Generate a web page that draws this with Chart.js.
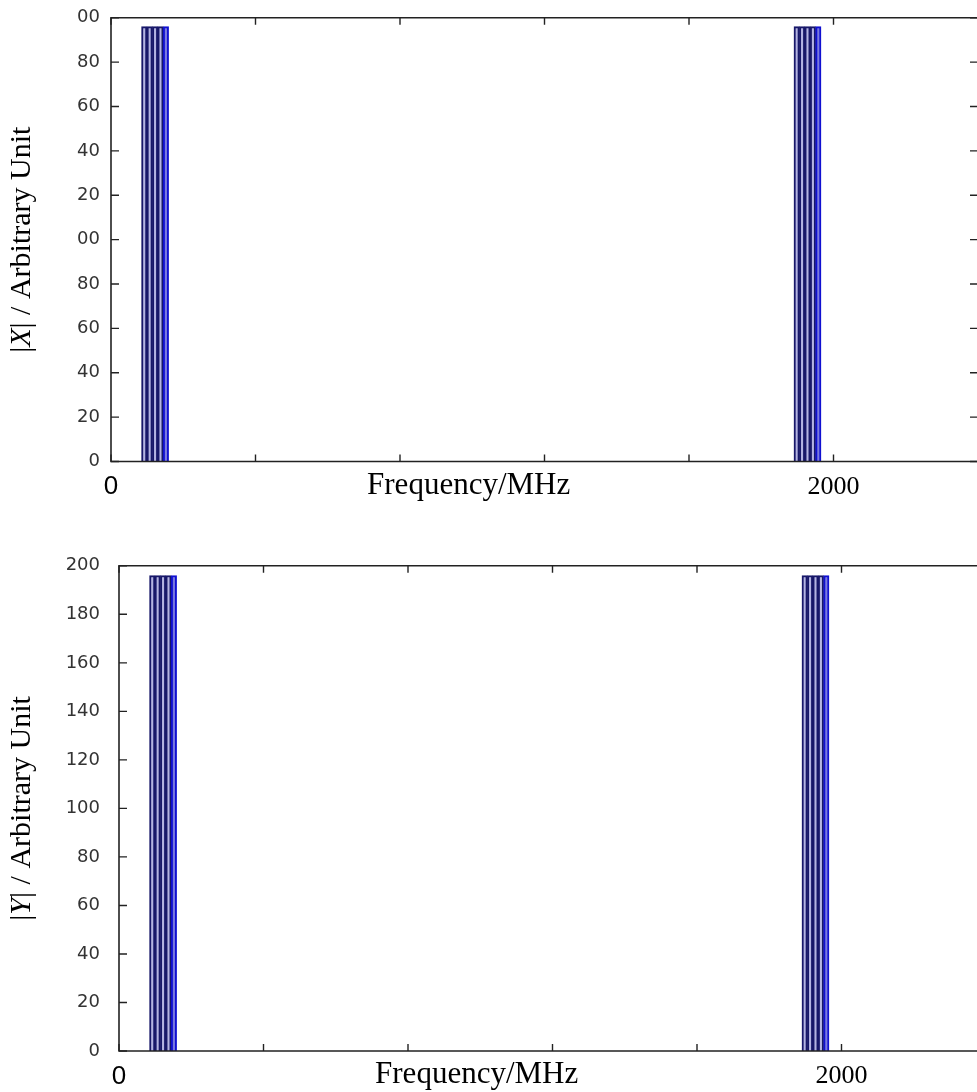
<!DOCTYPE html>
<html lang="en">
<head>
<meta charset="UTF-8">
<title>Spectrum |X| and |Y|</title>
<script src="https://cdn.jsdelivr.net/npm/chart.js"></script>
<style>
  html, body { margin: 0; padding: 0; background: #fff; overflow: hidden; }
  canvas { position: absolute; left: 0; }
  #topChart { top: -4px; }
  #bottomChart { top: 536px; }
</style>
</head>
<body>
<canvas id="topChart" width="988" height="544"></canvas>
<canvas id="bottomChart" width="996" height="556"></canvas>
<script>
// spectral lines (MHz) and their magnitudes
const freqs = [92, 107, 122, 137, 152, 1898, 1913, 1928, 1943, 1958];
const magX = [196, 196, 196, 196, 196, 196, 196, 196, 196, 196];
const magY = [196, 196, 196, 196, 196, 196, 196, 196, 196, 196];

const xTicks = [0, 400, 800, 1200, 1600, 2000, 2400];
const xTickText = ['0', '', '', '', '', '2000', ''];
const yTicks = [0, 20, 40, 60, 80, 100, 120, 140, 160, 180, 200];
const yTickTextTop = ['0', '20', '40', '60', '80', '00', '20', '40', '60', '80', '00'];
const yTickTextBottom = ['0', '20', '40', '60', '80', '100', '120', '140', '160', '180', '200'];
const xTitle = 'Frequency/MHz';
const xTitleAt = 990; // MHz, where the axis caption sits

const NAVY = '#18186a';
const BLUE = '#1010d0';

// frame, inward ticks, and the two titles
const matlabFrame = {
  id: 'matlabFrame',
  afterDatasetsDraw(chart, args, opts) {
    const { ctx, chartArea: a, scales: { x, y } } = chart;
    ctx.save();
    ctx.strokeStyle = '#222';
    ctx.lineWidth = 1.6;
    ctx.beginPath();
    ctx.moveTo(a.right, a.top);
    ctx.lineTo(a.left, a.top);
    ctx.lineTo(a.left, a.bottom);
    ctx.lineTo(a.right, a.bottom);
    ctx.stroke();

    ctx.lineWidth = 1.4;
    ctx.beginPath();
    x.ticks.forEach((t) => {
      const px = x.getPixelForValue(t.value);
      ctx.moveTo(px, a.bottom); ctx.lineTo(px, a.bottom - 7);
      ctx.moveTo(px, a.top); ctx.lineTo(px, a.top + 7);
    });
    y.ticks.forEach((t) => {
      const py = y.getPixelForValue(t.value);
      ctx.moveTo(a.left, py); ctx.lineTo(a.left + 8, py);
      ctx.moveTo(a.right, py); ctx.lineTo(a.right - 8, py);
    });
    ctx.stroke();

    // x caption
    ctx.fillStyle = '#000';
    ctx.font = '31px "Liberation Serif", "Times New Roman", serif';
    ctx.textAlign = 'center';
    ctx.textBaseline = 'middle';
    ctx.fillText(xTitle, x.getPixelForValue(xTitleAt), a.bottom + 24);

    // y caption with italic variable name
    const parts = [
      ['|', '30px "Liberation Serif", serif'],
      [opts.letter, 'italic 30px "Liberation Serif", serif'],
      ['| / Arbitrary Unit', '30px "Liberation Serif", serif'],
    ];
    let total = 0;
    parts.forEach((p) => { ctx.font = p[1]; total += ctx.measureText(p[0]).width; });
    ctx.translate(22, (a.top + a.bottom) / 2);
    ctx.rotate(-Math.PI / 2);
    ctx.textAlign = 'left';
    let cx = -total / 2;
    parts.forEach((p) => {
      ctx.font = p[1];
      ctx.fillText(p[0], cx, 0);
      cx += ctx.measureText(p[0]).width;
    });
    ctx.restore();
  },
};

function makeChart(id, values, yText, letter, axisLeft, labelPad, padTop, axisHeight) {
  return new Chart(document.getElementById(id), {
    type: 'bar',
    data: {
      datasets: [{
        data: freqs.map((f, i) => ({ x: f, y: values[i] })),
        backgroundColor: (c) => (c.dataIndex % 5 === 4 ? '#7a7ae0' : '#b4b4e2'),
        borderColor: (c) => (c.dataIndex % 5 === 4 ? BLUE : NAVY),
        borderWidth: 2,
        borderSkipped: 'start',
        barThickness: 5.4,
      }],
    },
    options: {
      responsive: false,
      animation: false,
      layout: { padding: { top: padTop, right: 0, bottom: 0, left: 0 } },
      plugins: { legend: { display: false }, tooltip: { enabled: false }, matlabFrame: { letter } },
      scales: {
        x: {
          type: 'linear',
          min: 0,
          max: 2400,
          offset: false,
          grid: { display: false, drawTicks: false, offset: false },
          border: { display: false },
          afterBuildTicks: (s) => { s.ticks = xTicks.map((v) => ({ value: v })); },
          afterFit: (s) => { s.height = axisHeight; },
          ticks: {
            autoSkip: false,
            maxRotation: 0,
            padding: 10,
            color: '#000',
            font: (c) => (c.tick && c.tick.value === 0
              ? { family: '"Liberation Sans", Arial, sans-serif', size: 26 }
              : { family: '"Liberation Serif", "Times New Roman", serif', size: 26 }),
            callback: (v) => xTickText[xTicks.indexOf(v)],
          },
        },
        y: {
          min: 0,
          max: 200,
          grid: { display: false, drawTicks: false },
          border: { display: false },
          afterBuildTicks: (s) => { s.ticks = yTicks.map((v) => ({ value: v })); },
          afterFit: (s) => { s.width = axisLeft; },
          ticks: {
            padding: labelPad,
            color: '#333',
            font: { family: '"DejaVu Sans", sans-serif', size: 18 },
            callback: (v) => yText[yTicks.indexOf(v)],
          },
        },
      },
    },
    plugins: [matlabFrame],
  });
}

makeChart('topChart', magX, yTickTextTop, 'X', 111, 11, 20, 78.5);
makeChart('bottomChart', magY, yTickTextBottom, 'Y', 119, 19, 22, 41);
</script>
</body>
</html>
